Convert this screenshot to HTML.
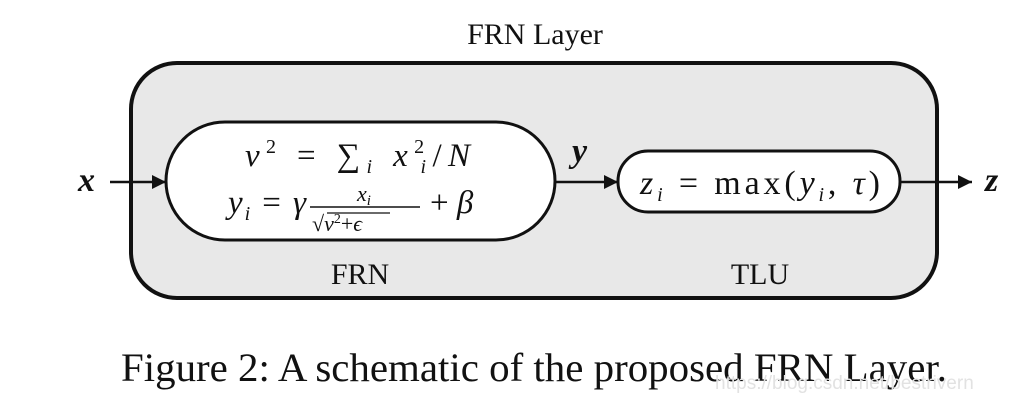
<!DOCTYPE html>
<html><head><meta charset="utf-8"><style>
body{margin:0;background:#fff;width:1033px;height:405px;overflow:hidden}
svg text{font-family:"Liberation Serif",serif;fill:#111}
</style></head><body>
<svg width="1033" height="405" viewBox="0 0 1033 405">
<defs>
<marker id="b" viewBox="0 0 10 10" refX="10" refY="5" markerWidth="20" markerHeight="14" orient="auto" markerUnits="userSpaceOnUse"><path d="M0,0 L10,5 L0,10 Z" fill="#111"/></marker></defs>
<text x="535" y="44" font-size="30" text-anchor="middle">FRN Layer</text>
<rect x="131" y="63" width="806" height="235" rx="46" fill="#e8e8e8" stroke="#111" stroke-width="4"/>
<rect x="166" y="122" width="389" height="118" rx="59" fill="#fff" stroke="#111" stroke-width="3"/>
<rect x="618" y="151" width="282" height="61" rx="30" fill="#fff" stroke="#111" stroke-width="3"/>
<line x1="110" y1="182" x2="166" y2="182" stroke="#111" stroke-width="2.5" marker-end="url(#b)"/>
<line x1="555" y1="182" x2="618" y2="182" stroke="#111" stroke-width="2.5" marker-end="url(#b)"/>
<line x1="900" y1="182" x2="972" y2="182" stroke="#111" stroke-width="2.5" marker-end="url(#b)"/>
<text x="78" y="191" font-size="34" font-style="italic" font-weight="bold">x</text>
<text x="572" y="162" font-size="34" font-style="italic" font-weight="bold">y</text>
<text x="985" y="191" font-size="34" font-style="italic" font-weight="bold">z</text>
<text x="245" y="166" font-size="33" textLength="225" lengthAdjust="spacing"><tspan font-style="italic">ν</tspan><tspan font-size="20" dy="-13">2</tspan><tspan dy="13"> = ∑</tspan><tspan font-size="20" font-style="italic" dy="7">i</tspan><tspan dy="-7" font-style="italic"> x</tspan><tspan font-size="20" dy="-13">2</tspan><tspan font-size="20" font-style="italic" dx="-10" dy="20">i</tspan><tspan dy="-7">/</tspan><tspan font-style="italic">N</tspan></text>
<text x="228" y="213" font-size="33" textLength="78" lengthAdjust="spacing"><tspan font-style="italic">y</tspan><tspan font-size="20" font-style="italic" dy="7">i</tspan><tspan dy="-7"> = </tspan><tspan font-style="italic">γ</tspan></text>
<text x="364" y="201" font-size="22" text-anchor="middle" font-style="italic">x<tspan font-size="15" dy="4">i</tspan></text>
<line x1="310" y1="207" x2="420" y2="207" stroke="#111" stroke-width="1.5"/>
<text x="312" y="231" font-size="22">√<tspan font-style="italic">ν</tspan><tspan font-size="14" dy="-8">2</tspan><tspan dy="8">+</tspan><tspan font-style="italic">ϵ</tspan></text>
<line x1="327" y1="213" x2="390" y2="213" stroke="#111" stroke-width="1.3"/>
<text x="430" y="213" font-size="33">+ <tspan font-style="italic">β</tspan></text>
<text x="640" y="194" font-size="34" textLength="240" lengthAdjust="spacing"><tspan font-style="italic">z</tspan><tspan font-size="20" font-style="italic" dy="7">i</tspan><tspan dy="-7"> = max(</tspan><tspan font-style="italic">y</tspan><tspan font-size="20" font-style="italic" dy="7">i</tspan><tspan dy="-7">, </tspan><tspan font-style="italic">τ</tspan>)</text>
<text x="360" y="284" font-size="30" text-anchor="middle">FRN</text>
<text x="760" y="284" font-size="30" text-anchor="middle">TLU</text>
<text x="121" y="381" font-size="40" textLength="826" lengthAdjust="spacingAndGlyphs">Figure 2: A schematic of the proposed FRN Layer.</text>
<text x="715" y="389" font-size="19" style="fill:#e2e2e2;font-family:'Liberation Sans',sans-serif">https://blog.csdn.net/bestrivern</text>
</svg>
</body></html>
